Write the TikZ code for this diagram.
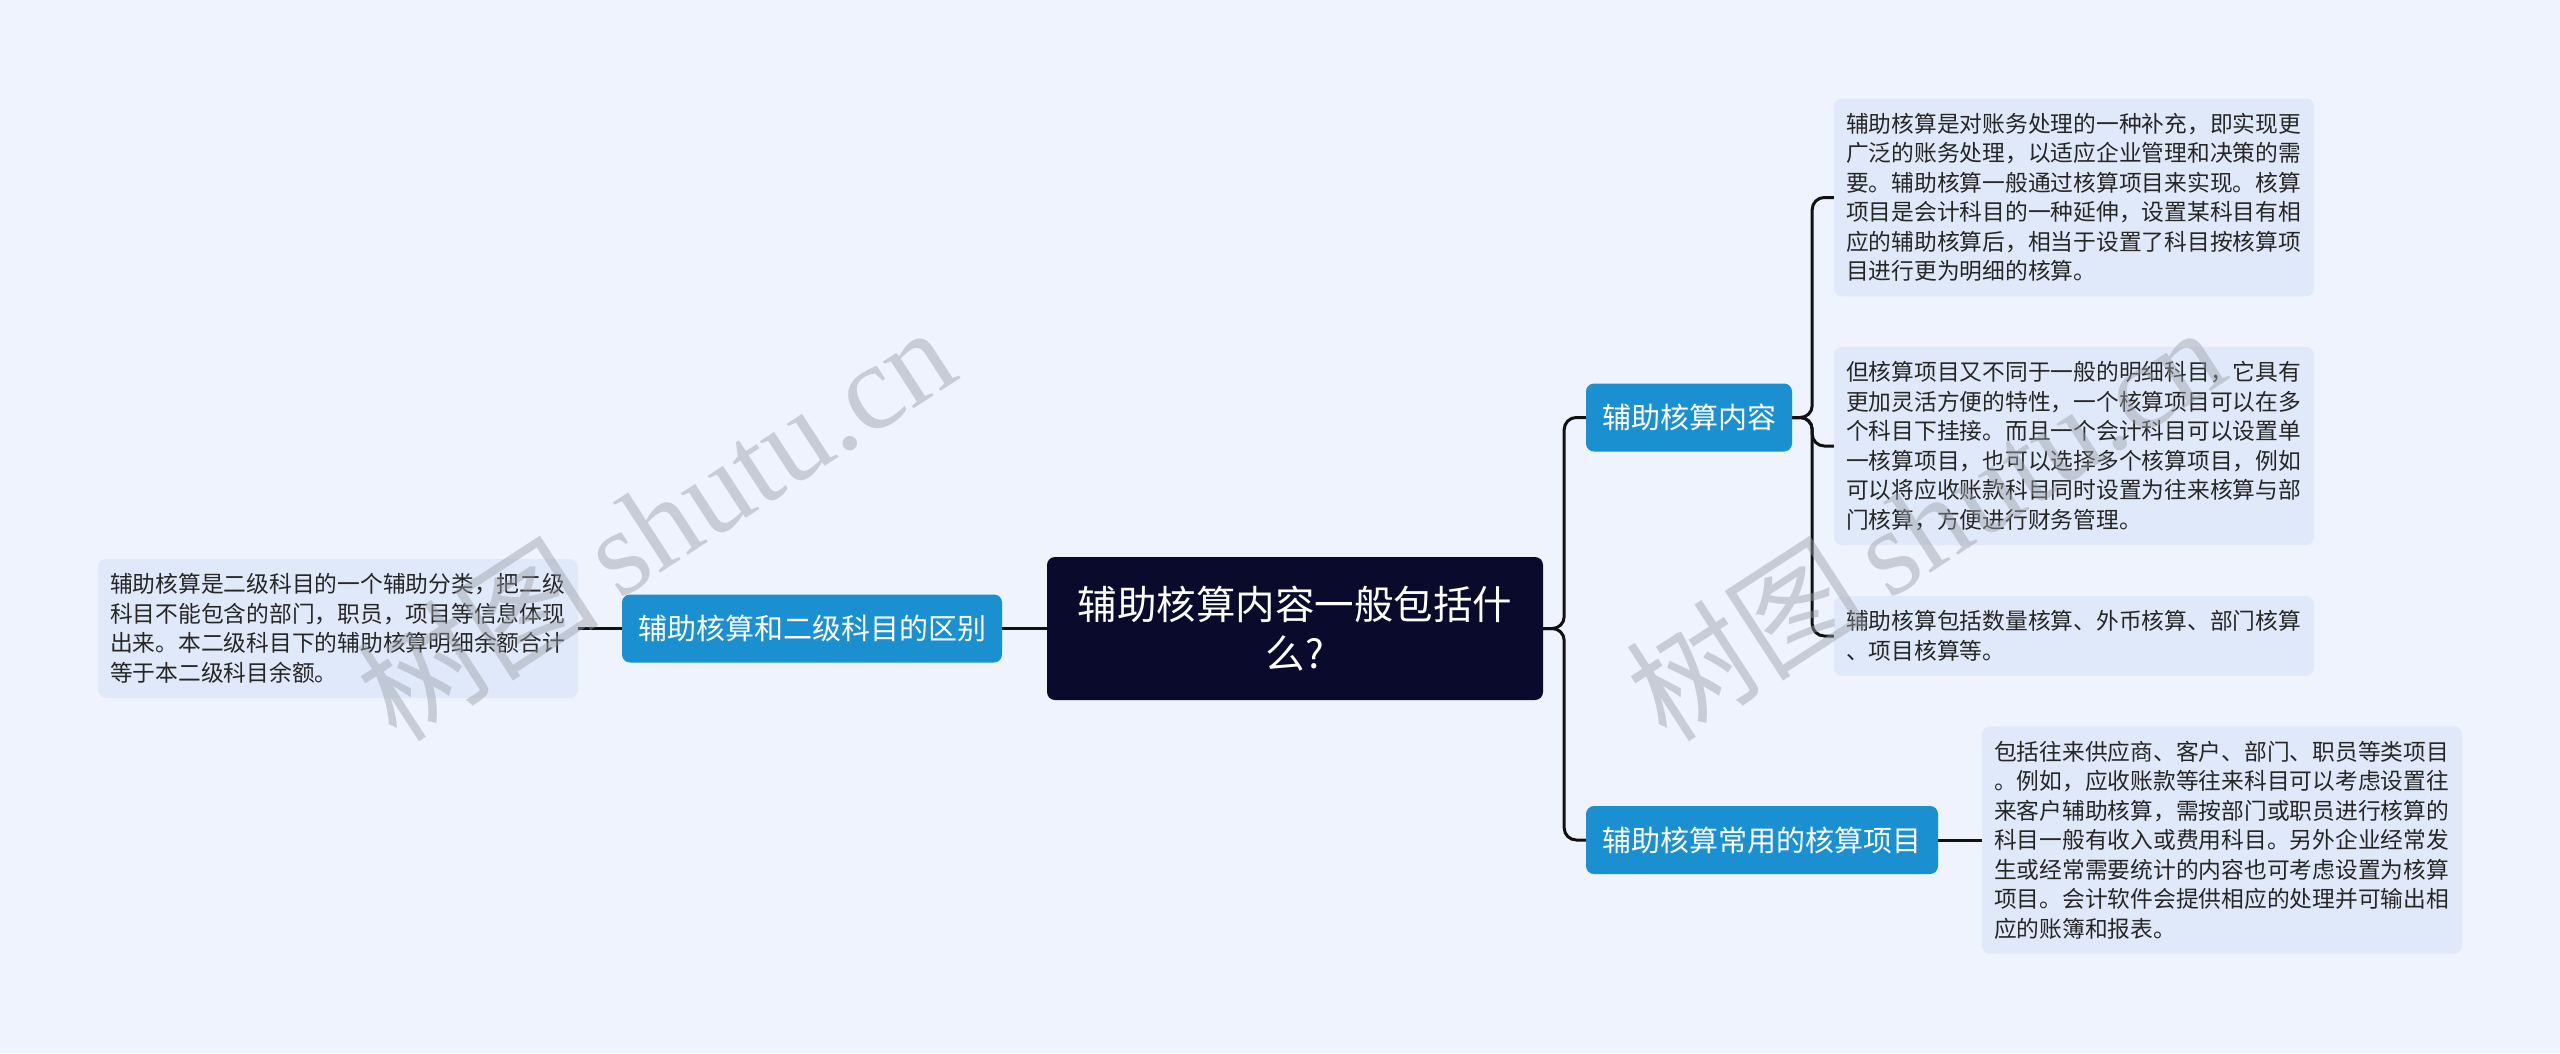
\documentclass[tikz,border=0pt]{standalone}
\usepackage{fontspec}
\newfontfamily\cjk{Noto Sans CJK SC}
\newfontfamily\wmserif{Liberation Serif}
\definecolor{bgc}{HTML}{EEF3FD}
\definecolor{leafc}{HTML}{E0E9FA}
\definecolor{branchc}{HTML}{1A90D0}
\definecolor{rootc}{HTML}{0A0A2C}
\definecolor{linec}{HTML}{111111}
\definecolor{wmc}{HTML}{9A9EA8}
\tikzset{
  rootbox/.style={fill=rootc, rounded corners=8pt, text=white, align=center,
    minimum width=496pt, minimum height=143pt, inner sep=0pt,
    font=\cjk\fontsize{39.5}{49}\selectfont},
  branchbox/.style={fill=branchc, rounded corners=8pt, text=white, align=center,
    minimum height=68pt, inner sep=0pt, font=\cjk\fontsize{29}{35}\selectfont},
  leafbox/.style={fill=leafc, rounded corners=8pt, text=black!85, align=left,
    text width=456pt, inner xsep=12pt, inner ysep=14.5pt,
    font=\cjk\fontsize{22.75}{29.5}\selectfont},
  conn/.style={draw=linec, line width=3pt, rounded corners=12pt},
  wmark/.style={text=wmc, opacity=0.45, rotate=33, font=\fontsize{122}{122}\selectfont}
}
\begin{document}
\begin{tikzpicture}[x=1pt,y=-1pt]
\fill[bgc] (0,0) rectangle (2560,1053);
\useasboundingbox (0,0) rectangle (2560,1053);

\node[rootbox] (root) at (1295,628.5) {辅助核算内容一般包括什\\么?};

\node[branchbox, minimum width=380pt] (bl) at (812,628.5) {辅助核算和二级科目的区别};
\node[leafbox] (ll) at (338,628.5) {辅助核算是二级科目的一个辅助分类，把二级\\科目不能包含的部门，职员，项目等信息体现\\出来。本二级科目下的辅助核算明细余额合计\\等于本二级科目余额。};

\node[branchbox, minimum width=206pt] (b1) at (1689,417.5) {辅助核算内容};
\node[branchbox, minimum width=352pt] (b2) at (1762,840) {辅助核算常用的核算项目};

\node[leafbox] (r1) at (2074,197.5) {辅助核算是对账务处理的一种补充，即实现更\\广泛的账务处理，以适应企业管理和决策的需\\要。辅助核算一般通过核算项目来实现。核算\\项目是会计科目的一种延伸，设置某科目有相\\应的辅助核算后，相当于设置了科目按核算项\\目进行更为明细的核算。};
\node[leafbox] (r2) at (2074,446) {但核算项目又不同于一般的明细科目，它具有\\更加灵活方便的特性，一个核算项目可以在多\\个科目下挂接。而且一个会计科目可以设置单\\一核算项目，也可以选择多个核算项目，例如\\可以将应收账款科目同时设置为往来核算与部\\门核算，方便进行财务管理。};
\node[leafbox] (r3) at (2074,636) {辅助核算包括数量核算、外币核算、部门核算\\、项目核算等。};
\node[leafbox] (r4) at (2222,840) {包括往来供应商、客户、部门、职员等类项目\\。例如，应收账款等往来科目可以考虑设置往\\来客户辅助核算，需按部门或职员进行核算的\\科目一般有收入或费用科目。另外企业经常发\\生或经常需要统计的内容也可考虑设置为核算\\项目。会计软件会提供相应的处理并可输出相\\应的账簿和报表。};

% connectors
\draw[conn] (root.west) -- (bl.east);
\draw[conn] (bl.west) -- (ll.east);
\draw[conn] (root.east) -- ++(21,0) |- (b1.west);
\draw[conn] (root.east) -- ++(21,0) |- (b2.west);
\draw[conn] (b1.east) -- ++(20,0) |- (r1.west);
\draw[conn] (b1.east) -- ++(20,0) |- (r2.west);
\draw[conn] (b1.east) -- ++(20,0) |- (r3.west);
\draw[conn] (b2.east) -- (r4.west);

% watermarks
\node[wmark] (w1) at (655,522) {{\cjk 树图}\,{\wmserif shutu.cn}};
\node[wmark] (w2) at (1925,522) {{\cjk 树图}\,{\wmserif shutu.cn}};
\end{tikzpicture}
\end{document}
